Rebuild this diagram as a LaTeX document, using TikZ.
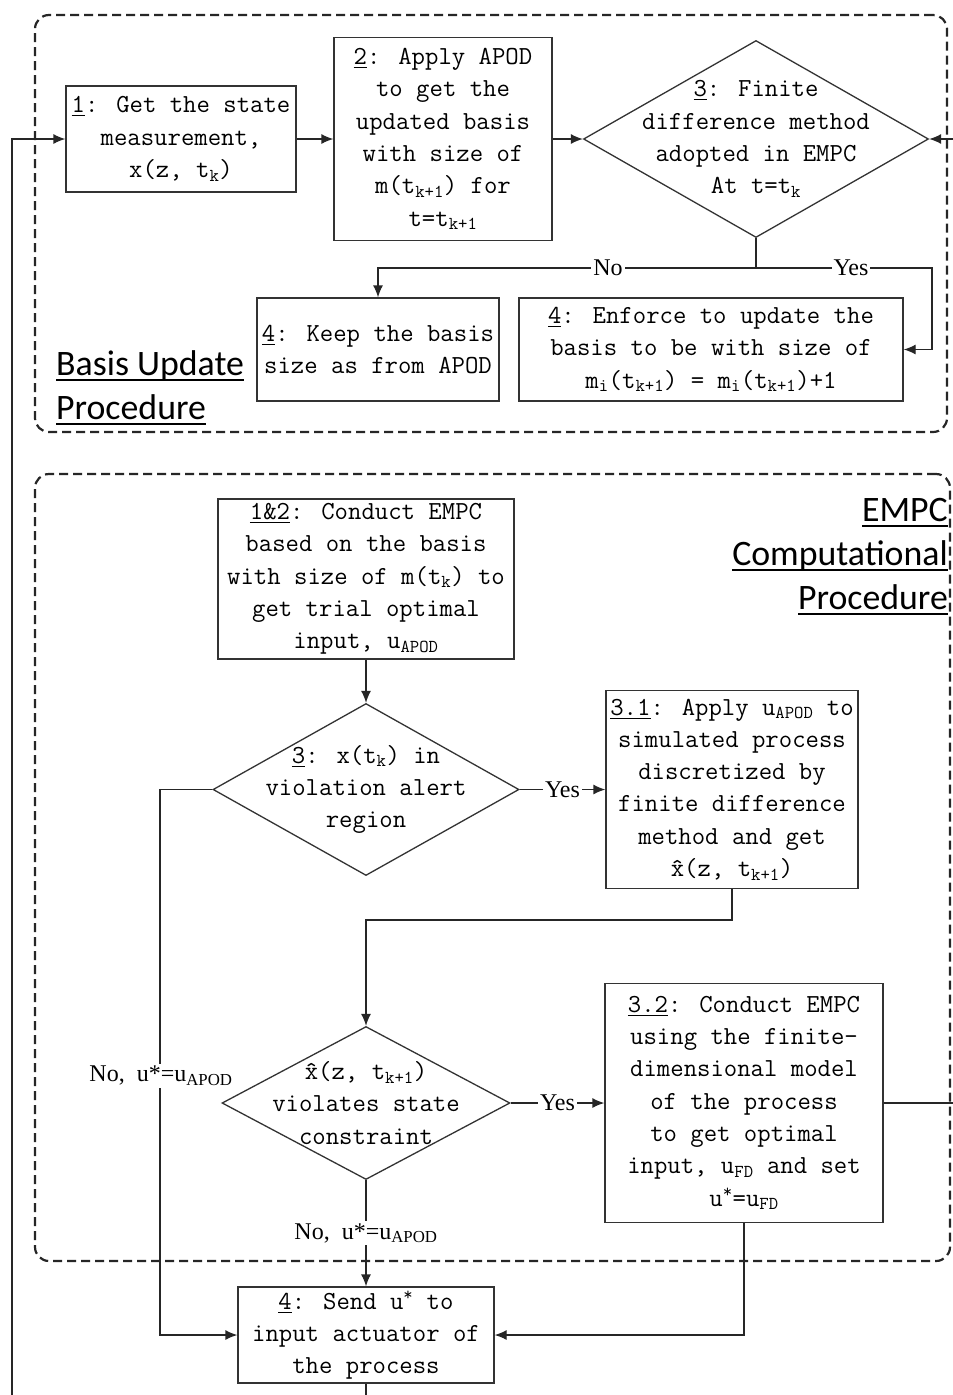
\documentclass[tikz,border=0pt]{standalone}
\usepackage{fontspec}
\usetikzlibrary{shapes.geometric,arrows.meta}
\newfontfamily\lblfamily{Liberation Serif}
\newfontfamily\secfamily{Carlito}
\newsavebox\ulbox
\newcommand\un[1]{\sbox\ulbox{#1}\rlap{\rule[-3.5pt]{\wd\ulbox}{1pt}}\usebox\ulbox}
\newcommand\ulthick[1]{\sbox\ulbox{#1}\rlap{\rule[-5.5pt]{\wd\ulbox}{2.3pt}}\usebox\ulbox}
\newcommand\boxfont{\fontsize{26}{32.3}\selectfont\ttfamily}
\newcommand\lblfont{\fontsize{24}{28}\selectfont\lblfamily}
\newcommand\secfont{\fontsize{35.8}{44}\selectfont\secfamily}
\newcommand\ustar{u\textsuperscript{*}}
\tikzset{
  box/.style={draw=black!80, line width=1.3pt, rectangle, inner sep=0pt, align=center, font=\boxfont},
  dia/.style={draw=black!80, line width=1.3pt, diamond, inner sep=0pt},
  txt/.style={align=center, font=\boxfont, inner sep=0pt},
  conn/.style={line width=1.3pt, draw=black!85},
  arr/.style={conn, -{Latex[length=12pt,width=10pt]}},
  lbl/.style={font=\lblfont, fill=white, inner sep=2pt},
  dashbox/.style={draw=black!85, line width=2.2pt, dash pattern=on 9pt off 5pt, rounded corners=14pt, rectangle, inner sep=0pt},
  sec/.style={font=\secfont, inner sep=0pt},
}
\begin{document}
\begin{tikzpicture}[x=1pt,y=-1pt]
\useasboundingbox (0,0) rectangle (953,1395);
\clip (0,0) rectangle (953,1395);
\fill[white] (0,0) rectangle (953,1395);

% containers
\node[dashbox, minimum width=912pt, minimum height=417pt] (basisbox) at (491,223.5) {};
\node[dashbox, minimum width=915pt, minimum height=787pt] (empcbox) at (492.5,867.5) {};

% top section
\node[box, minimum width=230pt, minimum height=106pt] (b1) at (181,139)
  {\un{1}: Get the state\\measurement,\\x(z, t\textsubscript{k})};
\node[box, minimum width=218pt, minimum height=203pt] (b2) at (443,139)
  {\un{2}: Apply APOD\\to get the\\updated basis\\with size of\\m(t\textsubscript{k+1}) for\\t=t\textsubscript{k+1}};
\node[dia, minimum width=345pt, minimum height=197pt] (d3) at (756,139) {};
\node[txt] (d3t) at (d3.center)
  {\un{3}: Finite\\difference method\\adopted in EMPC\\At t=t\textsubscript{k}};
\node[box, minimum width=242pt, minimum height=103pt] (b4a) at (378,349.5)
  {\un{4}: Keep the basis\\size as from APOD};
\node[box, minimum width=384pt, minimum height=103pt] (b4b) at (711,349.5)
  {\un{4}: Enforce to update the\\basis to be with size of\\m\textsubscript{i}(t\textsubscript{k+1}) = m\textsubscript{i}(t\textsubscript{k+1})+1};
\node[sec, anchor=west, align=left] (basislbl) at (56,388)
  {\ulthick{Basis Update}\\\ulthick{Procedure}};

% bottom section
\node[box, minimum width=296pt, minimum height=160pt] (c12) at (366,579)
  {\un{1\&2}: Conduct EMPC\\based on the basis\\with size of m(t\textsubscript{k}) to\\get trial optimal\\input, u\textsubscript{APOD}};
\node[dia, minimum width=306pt, minimum height=172pt] (d3b) at (366,789.5) {};
\node[txt] (d3bt) at (d3b.center)
  {\un{3}: x(t\textsubscript{k}) in\\violation alert\\region};
\node[box, minimum width=252pt, minimum height=198pt] (b31) at (732,789.5)
  {\un{3.1}: Apply u\textsubscript{APOD} to\\simulated process\\discretized by\\finite difference\\method and get\\\^{x}(z, t\textsubscript{k+1})};
\node[dia, minimum width=288pt, minimum height=153pt] (d4) at (366,1103) {};
\node[txt] (d4t) at (d4.center)
  {\^{x}(z, t\textsubscript{k+1})\\violates state\\constraint};
\node[box, minimum width=278pt, minimum height=239pt] (b32) at (744,1103)
  {\un{3.2}: Conduct EMPC\\using the finite-\\dimensional model\\of the process\\to get optimal\\input, u\textsubscript{FD} and set\\\ustar=u\textsubscript{FD}};
\node[box, minimum width=256pt, minimum height=96pt] (b4) at (366,1335)
  {\un{4}: Send \ustar{} to\\input actuator of\\the process};
\node[sec, anchor=east, align=right] (empclbl) at (948,557)
  {\ulthick{EMPC}\\\ulthick{Computational}\\\ulthick{Procedure}};

% connectors top
\draw[arr] (b1.east) -- (b2.west);
\draw[arr] (b2.east) -- (d3.west);
\coordinate (split) at (756,268);
\draw[conn] (d3.south) -- (split);
\draw[arr] (split) -- (378,268) -- (b4a.north);
\draw[arr] (split) -- (932,268) -- (932,349.5) -- (b4b.east);
\node[lbl] (lno) at (608,268) {No};
\node[lbl] (lyes) at (851,268) {Yes};

% connectors bottom
\draw[arr] (c12.south) -- (d3b.north);
\draw[arr] (d3b.east) -- node[lbl] (y1) {Yes} (b31.west);
\draw[arr] (b31.south) -- (732,920) -- (366,920) -- (d4.north);
\draw[arr] (d4.east) -- node[lbl] (y2) {Yes} (b32.west);
\draw[arr] (d4.south) -- node[lbl] (n2) {No,\ \ u*=u\textsubscript{APOD}} (b4.north);
\draw[arr] (d3b.west) -- (160,789.5) -- (160,1335) -- (b4.west);
\node[lbl] (n1) at (161,1076) {No,\ \ u*=u\textsubscript{APOD}};
\draw[arr] (b32.south) -- (744,1335) -- (b4.east);

% feedback loops (run off the page edges)
\draw[arr] (b4.south) -- (366,1420) -- (12,1420) -- (12,139) -- (b1.west);
\draw[arr] (b32.east) -- (975,1103) -- (975,139) -- (d3.east);
\end{tikzpicture}
\end{document}
